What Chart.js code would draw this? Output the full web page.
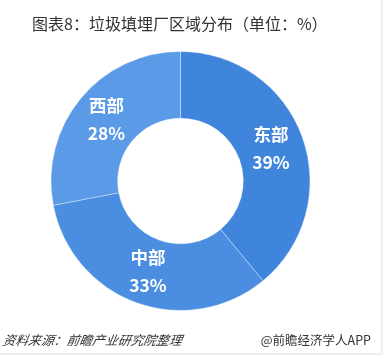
<!DOCTYPE html>
<html>
<head>
<meta charset="utf-8">
<script src="https://cdn.jsdelivr.net/npm/chart.js@4/dist/chart.umd.min.js"></script>
<style>
  html, body { margin: 0; padding: 0; background: #fff; }
  #wrap { position: relative; width: 383px; height: 355px; overflow: hidden;
          border-right: 2px solid #eeeeee; border-bottom: 2px solid #eeeeee; box-sizing: border-box; }
  #title { position: absolute; left: 32px; top: 11px; font: 16px "Noto Sans CJK SC", sans-serif;
           color: #333; white-space: nowrap; }
  #source { position: absolute; left: 3px; top: 330px; font: italic 12.8px "Noto Sans CJK SC", sans-serif;
            color: #333; white-space: nowrap; transform: skewX(-10deg); }
  #brand { position: absolute; right: 10px; top: 330px; font: 12.5px "Noto Sans CJK SC", sans-serif;
           color: #333; white-space: nowrap; }
  #chartBox { position: absolute; left: 0; top: 0; width: 383px; height: 355px; }
</style>
</head>
<body>
<div id="wrap">
  <div id="chartBox"><canvas id="myChart"></canvas></div>
  <div id="title">图表8：垃圾填埋厂区域分布（单位：%）</div>
  <div id="source">资料来源：前瞻产业研究院整理</div>
  <div id="brand">@前瞻经济学人APP</div>
</div>
<script>
// Data
const regions = ["东部", "中部", "西部"];
const shares = [39, 33, 28];
const colors = ["#3f85dc", "#4b8ee1", "#5b9ae6"];

// Draw region name + percentage inside each slice
const sliceLabels = {
    id: "sliceLabels",
    afterDatasetsDraw(chart) {
        const ctx = chart.ctx;
        const meta = chart.getDatasetMeta(0);
        ctx.save();
        ctx.fillStyle = "#ffffff";
        ctx.textAlign = "center";
        ctx.textBaseline = "middle";
        ctx.font = "bold 17.5px 'Noto Sans CJK SC', sans-serif";
        meta.data.forEach((arc, i) => {
            const p = arc.getCenterPoint();
            ctx.fillText(regions[i], p.x, p.y - 14);
            ctx.fillText(shares[i] + "%", p.x, p.y + 14);
        });
        ctx.restore();
    }
};

const ctx = document.getElementById("myChart").getContext("2d");
const chart = new Chart(ctx, {
    type: "doughnut",
    data: {
        labels: regions,
        datasets: [{
            data: shares,
            backgroundColor: colors,
            borderColor: "rgba(255,255,255,0.35)",
            borderWidth: 1
        }]
    },
    options: {
        responsive: true,
        maintainAspectRatio: false,
        animation: false,
        cutout: "48.5%",
        layout: { padding: { left: 50, right: 72, top: 51, bottom: 44 } },
        plugins: {
            legend: { display: false },
            tooltip: { enabled: false }
        }
    },
    plugins: [sliceLabels]
});
</script>
</body>
</html>
